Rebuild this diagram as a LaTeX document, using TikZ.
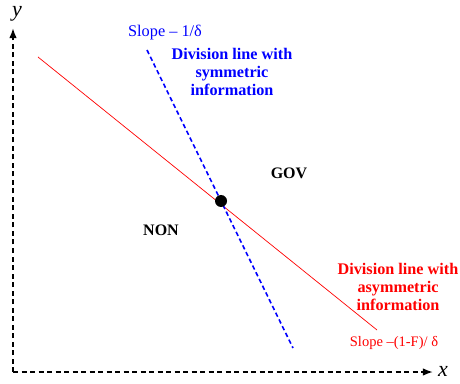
\documentclass[tikz,border=0pt]{standalone}
\usepackage{fontspec}
\setmainfont{Liberation Serif}
\usetikzlibrary{arrows.meta,calc,positioning}
\definecolor{symblue}{HTML}{0000FF}
\definecolor{asymred}{HTML}{FF0000}
\tikzset{>=Latex,
  every node/.style={font=\fontsize{16}{18}\selectfont},
  axis/.style={->,draw=black,dashed,line width=1.6pt,dash pattern=on 5pt off 3.5pt},
  symline/.style={draw=symblue,dashed,line width=1.6pt,dash pattern=on 4.5pt off 3pt},
  asymline/.style={draw=asymred,line width=.7pt},
  region/.style={font=\fontsize{16}{18}\selectfont\bfseries},
  linelabel/.style={align=center,font=\fontsize{16.2}{18}\selectfont\bfseries},
  slopelabel/.style={font=\fontsize{16.3}{18}\selectfont}}

\begin{document}
\begin{tikzpicture}[x=1pt,y=1pt]
\useasboundingbox (0,0) rectangle (460,383);
% pixel coordinates, y measured from the bottom
\coordinate (O) at (13,11);
\coordinate (ytip) at (13,355);
\coordinate (xtip) at (433,11);
\draw[axis] (O)--(ytip);
\draw[axis] (O)--(xtip);
\node (ylab) at (17,369) {\fontsize{22}{22}\selectfont\itshape y};
\node (xlab) at (443,12) {\fontsize{22}{22}\selectfont\itshape x};
% the two division lines
\coordinate (redA) at (38,326);
\coordinate (redB) at (377,53);
\coordinate (blueA) at (147,333);
\coordinate (blueB) at (293,35);
\draw[asymline] (redA)--(redB);
\draw[symline] (blueA)--(blueB);
\fill (221,182) circle(6pt) coordinate (cross);
\node[symblue,slopelabel] (symslope) at (165,350) {Slope – 1/δ};
\node[symblue,linelabel] (symtext) at (232,311) {Division line with\\symmetric\\information};
\node[region] (gov) at (289,210) {GOV};
\node[region] (non) at (161,153) {NON};
\node[asymred,linelabel] (asymtext) at (398,96) {Division line with\\asymmetric\\information};
\node[asymred,slopelabel,font=\fontsize{14.5}{18}\selectfont] (asymslope) at (394,40) {Slope –(1-F)/ δ};
\end{tikzpicture}
\end{document}
